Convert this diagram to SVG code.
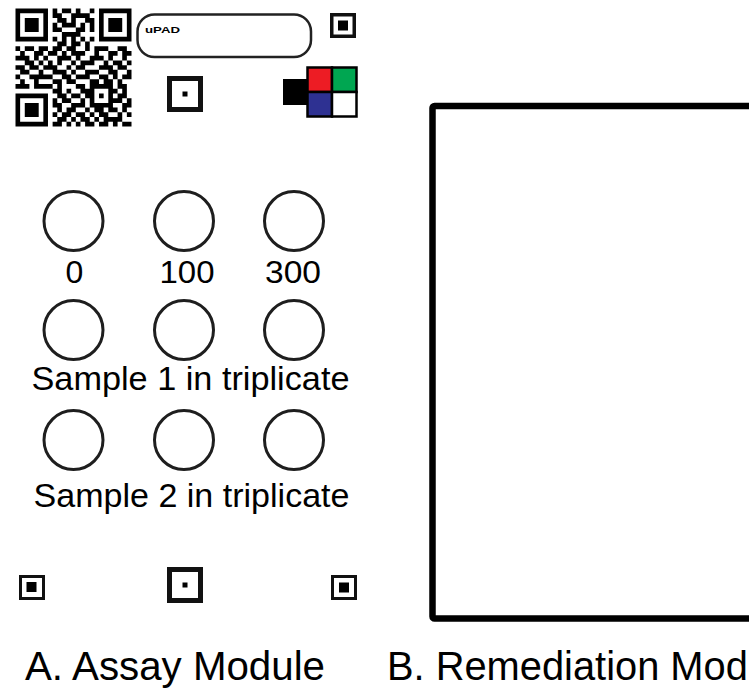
<svg xmlns="http://www.w3.org/2000/svg" width="749" height="688" viewBox="0 0 749 688">
<style>
.t{font-family:"Liberation Sans",Arial,sans-serif;fill:#000}
.well{fill:none;stroke:#1e1e1e;stroke-width:3}
.mk{fill:#fff;stroke:#111}
.cell{stroke:#000;stroke-width:2.5}
</style>
<rect width="749" height="688" fill="#fff"/>
<g id="qr-code" transform="translate(15.5,8.5) scale(4.64,4.72)">
<path fill="none" stroke="#000" stroke-width="1" d="M0 .5h7M8 .5h1M10 .5h2M13 .5h1M16 .5h1M18 .5h7
M0 1.5h1M6 1.5h1M8 1.5h2M12 1.5h4M18 1.5h1M24 1.5h1
M0 2.5h1M2 2.5h3M6 2.5h1M9 2.5h2M12 2.5h1M15 2.5h2M18 2.5h1M20 2.5h3M24 2.5h1
M0 3.5h1M2 3.5h3M6 3.5h1M8 3.5h1M10 3.5h3M14 3.5h1M16 3.5h1M18 3.5h1M20 3.5h3M24 3.5h1
M0 4.5h1M2 4.5h3M6 4.5h1M8 4.5h2M13 4.5h2M16 4.5h1M18 4.5h1M20 4.5h3M24 4.5h1
M0 5.5h1M6 5.5h1M10 5.5h4M18 5.5h1M24 5.5h1
M0 6.5h7M8 6.5h1M10 6.5h1M12 6.5h1M14 6.5h1M16 6.5h1M18 6.5h7
M9 7.5h2M12 7.5h2M15 7.5h1
M0 8.5h1M2 8.5h2M5 8.5h2M8 8.5h2M11 8.5h2M15 8.5h1M17 8.5h3M22 8.5h2
M1 9.5h1M4 9.5h2M7 9.5h2M10 9.5h1M12 9.5h3M17 9.5h1M20 9.5h2M23 9.5h2
M0 10.5h3M4 10.5h1M6 10.5h1M9 10.5h3M13 10.5h1M16 10.5h3M20 10.5h1M23 10.5h1
M2 11.5h2M5 11.5h1M7 11.5h1M9 11.5h1M12 11.5h1M14 11.5h3M19 11.5h1M21 11.5h2M24 11.5h1
M0 12.5h2M3 12.5h2M6 12.5h3M11 12.5h1M13 12.5h2M18 12.5h3M22 12.5h2
M1 13.5h2M5 13.5h1M8 13.5h3M12 13.5h1M15 13.5h3M20 13.5h2M24 13.5h1
M0 14.5h1M3 14.5h5M10 14.5h2M13 14.5h3M18 14.5h2M21 14.5h1M23 14.5h2
M1 15.5h1M4 15.5h1M8 15.5h2M11 15.5h2M16 15.5h2M19 15.5h2M22 15.5h1
M0 16.5h3M4 16.5h4M9 16.5h1M13 16.5h2M16 16.5h5M22 16.5h2
M8 17.5h2M11 17.5h1M14 17.5h3M20 17.5h2M23 17.5h1
M0 18.5h7M9 18.5h2M12 18.5h2M15 18.5h2M18 18.5h1M20 18.5h1M22 18.5h2
M0 19.5h1M6 19.5h1M8 19.5h1M10 19.5h2M14 19.5h1M16 19.5h1M20 19.5h3M24 19.5h1
M0 20.5h1M2 20.5h3M6 20.5h1M8 20.5h2M12 20.5h3M16 20.5h5M23 20.5h2
M0 21.5h1M2 21.5h3M6 21.5h1M9 21.5h1M11 21.5h2M15 21.5h1M17 21.5h2M20 21.5h2M23 21.5h1
M0 22.5h1M2 22.5h3M6 22.5h1M8 22.5h1M10 22.5h2M13 22.5h2M16 22.5h1M18 22.5h2M22 22.5h1M24 22.5h1
M0 23.5h1M6 23.5h1M9 23.5h2M12 23.5h1M14 23.5h2M17 23.5h1M19 23.5h4
M0 24.5h7M8 24.5h2M11 24.5h1M13 24.5h1M15 24.5h2M18 24.5h2M21 24.5h1M23 24.5h2"/>
</g>
<g id="label-box">
<rect x="137.5" y="14.5" width="173.5" height="42.5" rx="17" fill="#fff" stroke="#222" stroke-width="2.5"/>
<text class="t" x="145" y="33.3" font-size="9.5" font-weight="bold" textLength="35" lengthAdjust="spacingAndGlyphs">uPAD</text>
</g>
<g id="marker-top-right">
<rect class="mk" x="331.75" y="14.75" width="22.5" height="21.5" stroke-width="3.5"/>
<rect x="338" y="20.5" width="10" height="10" fill="#000"/>
</g>
<g id="marker-top-center">
<rect class="mk" x="169.5" y="78.5" width="31" height="31" stroke-width="5"/>
<rect x="182.5" y="91.5" width="5" height="5" fill="#000"/>
</g>
<g id="color-key">
<rect x="283" y="79" width="25" height="26" fill="#000"/>
<rect class="cell" x="307.5" y="67.5" width="24.5" height="24.5" fill="#ED1C24"/>
<rect class="cell" x="332" y="67.5" width="24.5" height="24.5" fill="#00A651"/>
<rect class="cell" x="307.5" y="92" width="24.5" height="24.5" fill="#2E3192"/>
<rect class="cell" x="332" y="92" width="24.5" height="24.5" fill="#fff"/>
</g>
<g id="wells-standards">
<circle class="well" cx="73.5" cy="221" r="29.5"/>
<circle class="well" cx="184" cy="221" r="29.5"/>
<circle class="well" cx="294" cy="221" r="29.5"/>
<text class="t" x="74.5" y="282.5" font-size="32" text-anchor="middle">0</text>
<text class="t" x="187" y="282.5" font-size="32" text-anchor="middle" textLength="55" lengthAdjust="spacingAndGlyphs">100</text>
<text class="t" x="293" y="282.5" font-size="32" text-anchor="middle" textLength="56" lengthAdjust="spacingAndGlyphs">300</text>
</g>
<g id="wells-sample1">
<circle class="well" cx="73.5" cy="330" r="29.5"/>
<circle class="well" cx="184" cy="330" r="29.5"/>
<circle class="well" cx="294" cy="330" r="29.5"/>
<text class="t" x="31.5" y="390" font-size="34" textLength="318" lengthAdjust="spacingAndGlyphs">Sample 1 in triplicate</text>
</g>
<g id="wells-sample2">
<circle class="well" cx="73.5" cy="440" r="29.5"/>
<circle class="well" cx="184" cy="440" r="29.5"/>
<circle class="well" cx="294" cy="440" r="29.5"/>
<text class="t" x="33.5" y="506.5" font-size="34" textLength="316" lengthAdjust="spacingAndGlyphs">Sample 2 in triplicate</text>
</g>
<g id="marker-bottom-left">
<rect class="mk" x="20.5" y="576.5" width="23" height="22" stroke-width="3" stroke="#333"/>
<rect x="26.5" y="582" width="10" height="10" fill="#000"/>
</g>
<g id="marker-bottom-center">
<rect class="mk" x="169.5" y="569.5" width="31" height="31" stroke-width="5"/>
<rect x="182.5" y="582.5" width="5" height="5" fill="#000"/>
</g>
<g id="marker-bottom-right">
<rect class="mk" x="332.5" y="576.5" width="23" height="22" stroke-width="3" stroke="#333"/>
<rect x="339" y="582.5" width="10" height="10" fill="#000"/>
</g>
<g id="remediation-module">
<rect x="432.5" y="106" width="400" height="512.5" rx="2" fill="#fff" stroke="#000" stroke-width="6.5"/>
</g>
<g id="captions">
<text class="t" x="25" y="680" font-size="41" textLength="300" lengthAdjust="spacingAndGlyphs">A. Assay Module</text>
<text class="t" x="387" y="680" font-size="41" textLength="414" lengthAdjust="spacingAndGlyphs">B. Remediation Module</text>
</g>
</svg>
